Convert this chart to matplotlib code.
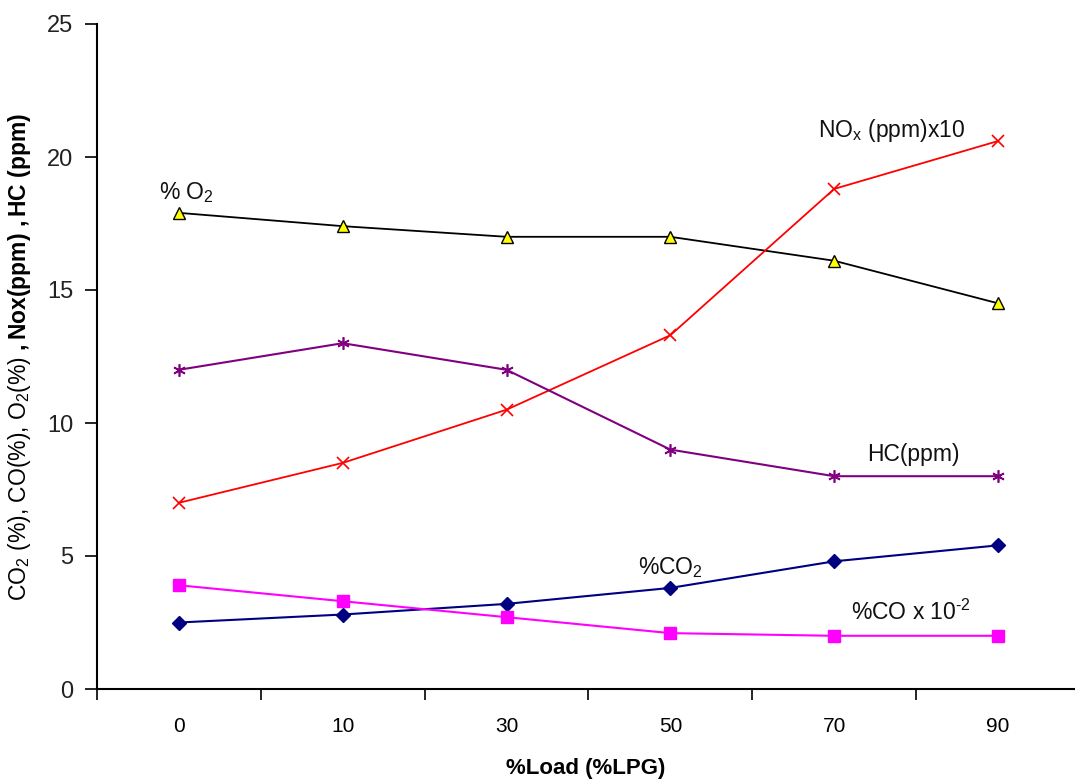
import matplotlib
matplotlib.use("Agg")
import matplotlib.pyplot as plt

plt.rcParams['font.family'] = ['Liberation Sans', 'DejaVu Sans']
plt.rcParams['mathtext.fontset'] = 'custom'
plt.rcParams['mathtext.rm'] = 'Liberation Sans'
plt.rcParams['mathtext.it'] = 'Liberation Sans:italic'
plt.rcParams['mathtext.bf'] = 'Liberation Sans:bold'

categories = ["0", "10", "30", "50", "70", "90"]
o2 = [17.9, 17.4, 17.0, 17.0, 16.1, 14.5]
nox = [7.0, 8.5, 10.5, 13.3, 18.8, 20.6]
hc = [12.0, 13.0, 12.0, 9.0, 8.0, 8.0]
co2 = [2.5, 2.8, 3.2, 3.8, 4.8, 5.4]
co = [3.9, 3.3, 2.7, 2.1, 2.0, 2.0]

fig = plt.figure(figsize=(10.75, 7.8), dpi=100)
ax = fig.add_axes([97/1075, 1-689/780, 1-97/1075, (689-24)/780])
xs = list(range(len(categories)))

ax.plot(xs, o2, color='black', lw=1.3, marker='^', ms=9, mfc='#FFFF00', mec='black', mew=1.0, zorder=3)
ax.plot(xs, nox, color='#FF0000', lw=1.3, marker='x', ms=8, mec='#FF0000', mew=1.2, zorder=3)
ax.plot(xs, hc, color='#800080', lw=1.5, marker=(6, 2, 0), ms=9, mec='#800080', mew=1.2, zorder=3)
ax.plot(xs, co2, color='#000080', lw=1.5, marker='D', ms=7, mfc='#000080', mec='#000080', zorder=3)
ax.plot(xs, co, color='#FF00FF', lw=1.5, marker='s', ms=8, mfc='#FF00FF', mec='#FF00FF', zorder=3)

ax.set_xlim(-0.5, 5.47)
ax.set_ylim(0, 25)
ax.set_yticks([0, 5, 10, 15, 20, 25])
ax.set_xticks([x - 0.5 for x in xs])
ax.set_xticks(xs, minor=True)
ax.set_xticklabels([])
ax.set_xticklabels(categories, minor=True)
ax.tick_params(axis='x', which='major', direction='out', length=8, width=1.2)
ax.tick_params(axis='x', which='minor', length=0, pad=20, labelsize=15)
ax.tick_params(axis='y', direction='out', length=9, width=1.2, pad=8, labelsize=17, labelcolor='#222222')

for s in ['top', 'right']:
    ax.spines[s].set_visible(False)
for s in ['left', 'bottom']:
    ax.spines[s].set_linewidth(1.5)

ax.set_xlabel('%Load (%LPG)', fontsize=16, fontweight='bold', labelpad=16)
ax.set_ylabel(r'CO$_2$ (%), CO(%), O$_2$(%) $\mathbf{,Nox(ppm)\ ,HC\ (ppm)}$', fontsize=16.5, labelpad=10)

tk = dict(fontsize=16.5, color='#111111')
ax.text(-0.12, 18.2, r'% O$_2$', ha='left', va='bottom', **tk)
ax.text(3.9, 20.5, r'NO$_\mathrm{x}$ (ppm)x10', ha='left', va='bottom', **tk)
ax.text(4.2, 8.4, 'HC(ppm)', ha='left', va='bottom', **tk)
ax.text(2.8, 4.1, r'%CO$_2$', ha='left', va='bottom', **tk)
ax.text(4.1, 2.4, r'%CO x 10$^{\text{-}2}$', ha='left', va='bottom', **tk)

fig.savefig('out.png', dpi=100)
